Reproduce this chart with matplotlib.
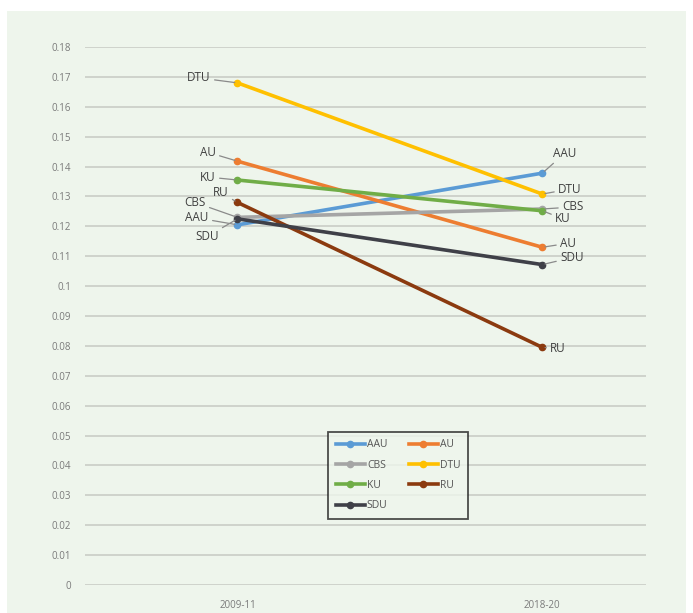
import numpy as np
import matplotlib.pyplot as plt
from matplotlib.patches import Rectangle

# data
periods = ["2009-11", "2018-20"]
unis = ["AAU", "AU", "CBS", "DTU", "KU", "RU", "SDU"]
start = [0.1205, 0.1418, 0.1230, 0.1680, 0.1355, 0.1280, 0.1225]
end = [0.1378, 0.1130, 0.1258, 0.1308, 0.1252, 0.0795, 0.1072]
colors = ["#5B9BD5", "#ED7D31", "#A5A5A5", "#FFC000", "#70AD47", "#8B3A0F", "#3F4048"]

# label offsets in pixels (dx, dy) for the two ends
off_start = {"DTU": (-27, 5), "AU": (-22, 9), "KU": (-22, 3), "RU": (-9, 10),
             "CBS": (-32, 15), "AAU": (-29, 7), "SDU": (-19, -18)}
off_end = {"AAU": (11, 20), "DTU": (16, 5), "CBS": (20, 2), "KU": (13, -8),
           "AU": (18, 4), "SDU": (18, 7), "RU": (8, -1)}

plt.rcParams['font.family'] = ['Open Sans', 'DejaVu Sans']
bg = "#EEF5EC"

fig = plt.figure(figsize=(6.93, 6.13), dpi=100, facecolor="white")
fig.patches.append(Rectangle((7 / 693, 0), 679 / 693, 602 / 613,
                             transform=fig.transFigure, facecolor=bg,
                             edgecolor="none", zorder=-10))
ax = fig.add_axes([85 / 693, 28 / 613, 561 / 693, 538 / 613])
ax.set_facecolor(bg)

x = np.arange(len(periods))
for name, a, b, c in zip(unis, start, end, colors):
    ax.plot(x, [a, b], color=c, lw=2.6, marker="o", ms=4.5, label=name, zorder=3)

lead = dict(arrowstyle="-", color="#8a8a8a", lw=0.9, shrinkA=1, shrinkB=2)
for name, a, b in zip(unis, start, end):
    ax.annotate(name, (0, a), xytext=off_start[name], textcoords="offset pixels",
                ha="right", va="center", fontsize=8.5, color="#404040",
                arrowprops=lead)
    ax.annotate(name, (1, b), xytext=off_end[name], textcoords="offset pixels",
                ha="left", va="center", fontsize=8.5, color="#404040",
                arrowprops=lead)

ax.set_xlim(-0.5, 1.34)
ax.set_ylim(0, 0.18)
yt = np.round(np.arange(0, 0.181, 0.01), 2)
ax.set_yticks(yt)
ax.set_yticklabels([f"{v:g}" for v in yt])
ax.set_xticks(x)
ax.set_xticklabels(periods)
ax.tick_params(axis="y", length=0, pad=10, labelsize=7, labelcolor="#7a7a7a")
ax.tick_params(axis="x", length=0, pad=11, labelsize=7, labelcolor="#7a7a7a")
ax.grid(axis="y", color="#cfd3cc", lw=1.4)
ax.set_axisbelow(True)
for s in ax.spines.values():
    s.set_visible(False)

order = ["AAU", "CBS", "KU", "SDU", "AU", "DTU", "RU"]
h, l = ax.get_legend_handles_labels()
hd = dict(zip(l, h))
leg = ax.legend([hd[k] for k in order], order, ncol=2, loc="center",
                bbox_to_anchor=(0.558, 0.204), fontsize=7.5, frameon=True,
                fancybox=False, handlelength=2.8, handletextpad=0.2,
                columnspacing=2.0, labelspacing=0.9, borderpad=0.7)
leg.get_frame().set_edgecolor("#222222")
leg.get_frame().set_linewidth(1.3)
leg.get_frame().set_facecolor(bg)
for t in leg.get_texts():
    t.set_color("#555555")

fig.savefig("out.png", dpi=100, facecolor=fig.get_facecolor())
